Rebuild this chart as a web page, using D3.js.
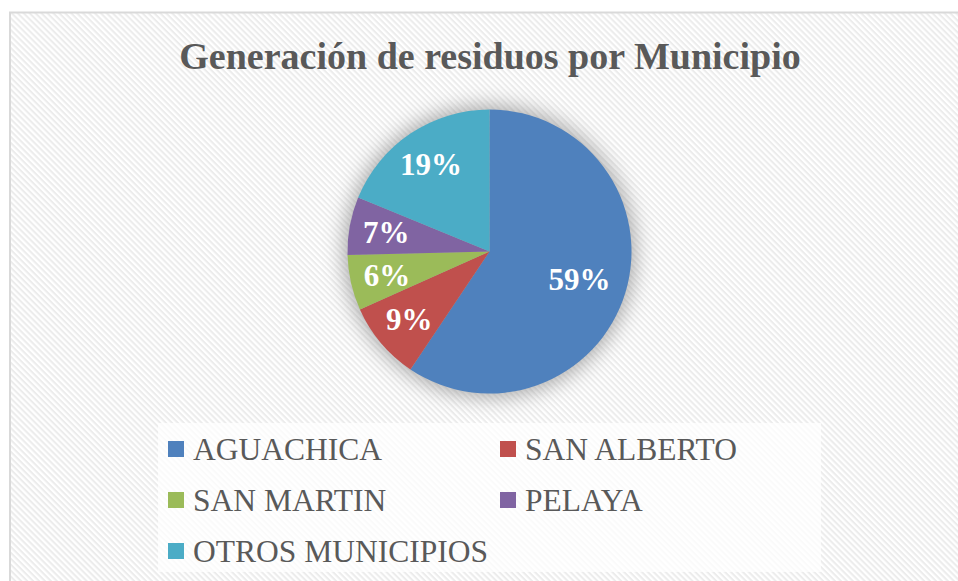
<!DOCTYPE html>
<html><head><meta charset="utf-8">
<script src="https://cdn.jsdelivr.net/npm/d3@7"></script>
<style>html,body{margin:0;padding:0;background:#fff;}svg{display:block;}</style>
</head><body>
<svg id="chart" width="958" height="581"></svg>
<script>
const title = "Generación de residuos por Municipio";
const categories = ["AGUACHICA", "SAN ALBERTO", "SAN MARTIN", "PELAYA", "OTROS MUNICIPIOS"];
const values = [59.4, 8.9, 6.3, 6.6, 18.8];
const colors = ["#4F81BD", "#C0504D", "#9BBB59", "#8064A2", "#4BACC6"];

const W = 958, H = 581;
const svg = d3.select("#chart");
const defs = svg.append("defs");

const pat = defs.append("pattern").attr("id", "hatch")
  .attr("patternUnits", "userSpaceOnUse").attr("width", 4.2).attr("height", 4.2)
  .attr("patternTransform", "rotate(45)");
pat.append("rect").attr("width", 4.2).attr("height", 4.2).attr("fill", "#ffffff");
pat.append("rect").attr("width", 4.2).attr("height", 2).attr("fill", "#ececec");

const blur = defs.append("filter").attr("id", "glow")
  .attr("x", "-40%").attr("y", "-40%").attr("width", "180%").attr("height", "180%");
blur.append("feGaussianBlur").attr("stdDeviation", 10);

// chart area
svg.append("rect").attr("x", 10).attr("y", 12.5).attr("width", W + 20).attr("height", H + 20)
  .attr("fill", "url(#hatch)").attr("stroke", "#d9d9d9").attr("stroke-width", 2);

svg.append("text").attr("x", 490).attr("y", 69).attr("text-anchor", "middle")
  .attr("font-family", "'Liberation Serif', 'Times New Roman', serif").attr("font-weight", "bold")
  .attr("font-size", 38).attr("fill", "#595959").text(title);

const cx = 489.5, cy = 251.5, R = 142;
const total = d3.sum(values);
const pie = d3.pie().sort(null).value(d => d)(values);
const arc = d3.arc().innerRadius(0).outerRadius(R);

const g = svg.append("g").attr("transform", `translate(${cx},${cy})`);
g.append("circle").attr("r", R + 4).attr("fill", "#8a8a8a").attr("opacity", 0.7).attr("filter", "url(#glow)");
g.selectAll("path.slice").data(pie).enter().append("path").attr("class", "slice")
  .attr("d", arc).attr("fill", (d, i) => colors[i]);

g.selectAll("text.lbl").data(pie).enter().append("text").attr("class", "lbl")
  .each(function(d) {
    const frac = (d.endAngle - d.startAngle) / (2 * Math.PI);
    const r = frac > 0.5 ? 94 : 105;
    const a = (d.startAngle + d.endAngle) / 2;
    d3.select(this).attr("x", r * Math.sin(a)).attr("y", -r * Math.cos(a) + 11);
  })
  .attr("text-anchor", "middle")
  .attr("font-family", "'Liberation Serif', 'Times New Roman', serif").attr("font-weight", "bold")
  .attr("font-size", 31).attr("fill", "#ffffff")
  .text(d => Math.round(d.value / total * 100) + "%");

// legend
svg.append("rect").attr("x", 158).attr("y", 423).attr("width", 663).attr("height", 149)
  .attr("fill", "#ffffff").attr("opacity", 0.75);
const colX = [168, 500], rowY = [441, 492, 543];
const lg = svg.append("g");
categories.forEach((c, i) => {
  const x = colX[i % 2], y = rowY[Math.floor(i / 2)];
  lg.append("rect").attr("x", x).attr("y", y).attr("width", 16).attr("height", 16).attr("fill", colors[i]);
  lg.append("text").attr("x", x + 25).attr("y", y + 19)
    .attr("font-family", "'Liberation Serif', 'Times New Roman', serif")
    .attr("font-size", 31.5).attr("fill", "#595959").text(c);
});
</script>
</body></html>
